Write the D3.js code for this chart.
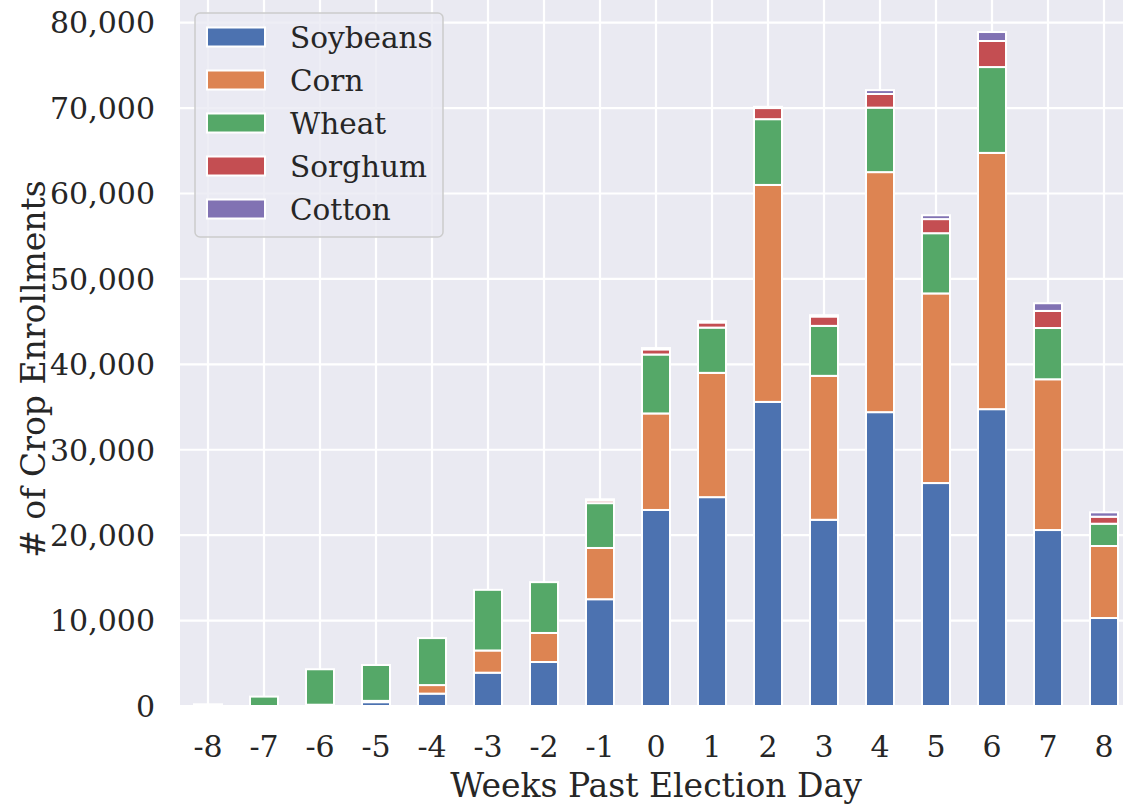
<!DOCTYPE html>
<html>
<head>
<meta charset="utf-8">
<script src="https://cdn.jsdelivr.net/npm/d3@7"></script>
<style>
  html, body { margin: 0; padding: 0; background: #ffffff; }
  svg { display: block; }
  text { font-family: "DejaVu Serif", serif; fill: #262626; }
</style>
</head>
<body>
<svg id="chart" width="1123" height="808"></svg>
<script>
const weeks = ["-8","-7","-6","-5","-4","-3","-2","-1","0","1","2","3","4","5","6","7","8"];
const soybeans = [0, 0, 150, 450, 1450, 3900, 5150, 12500, 22950, 24450, 35600, 21800, 34400, 26100, 34750, 20600, 10300];
const corn     = [0, 0, 0, 150, 1000, 2600, 3400, 6000, 11300, 14550, 25400, 16850, 28100, 22200, 30000, 17650, 8430];
const wheat    = [200, 1100, 4150, 4200, 5500, 7100, 5950, 5250, 6900, 5300, 7700, 5850, 7550, 7050, 10050, 6000, 2610];
const sorghum  = [0, 0, 0, 0, 0, 0, 0, 300, 600, 600, 1300, 1100, 1600, 1650, 3050, 2000, 820];
const cotton   = [0, 0, 0, 0, 0, 0, 0, 150, 150, 150, 150, 150, 450, 450, 1050, 900, 510];
const seriesNames = ["Soybeans", "Corn", "Wheat", "Sorghum", "Cotton"];
const seriesColors = ["#4C72B0", "#DD8452", "#55A868", "#C44E52", "#8172B3"];
const yTicks = [0, 10000, 20000, 30000, 40000, 50000, 60000, 70000, 80000];

const seriesArrays = [soybeans, corn, wheat, sorghum, cotton];
const rows = weeks.map((w, i) => {
  const r = { week: w };
  seriesNames.forEach((s, k) => r[s] = seriesArrays[k][i]);
  return r;
});

const svg = d3.select("#chart");
const plotLeft = 180, plotRight = 1132, plotTop = 0, plotBottom = 706;
const TICK_FS = 30, LABEL_FS = 33, LEG_FS = 29.5;

const x = d3.scaleBand().domain(weeks).range([plotLeft, plotRight]).paddingInner(0.5).paddingOuter(0.25);
const y = d3.scaleLinear().domain([0, 82650]).range([plotBottom, plotTop]);
const color = d3.scaleOrdinal().domain(seriesNames).range(seriesColors);

// background
svg.append("rect").attr("x", plotLeft).attr("y", plotTop)
  .attr("width", plotRight - plotLeft).attr("height", plotBottom - plotTop)
  .attr("fill", "#EAEAF2");

// grid
const g = svg.append("g");
g.selectAll("line.h").data(yTicks).join("line")
  .attr("x1", plotLeft).attr("x2", plotRight)
  .attr("y1", d => y(d)).attr("y2", d => y(d))
  .attr("stroke", "#fff").attr("stroke-width", 2.2);
g.selectAll("line.v").data(weeks).join("line")
  .attr("x1", d => x(d) + x.bandwidth() / 2).attr("x2", d => x(d) + x.bandwidth() / 2)
  .attr("y1", plotTop).attr("y2", plotBottom)
  .attr("stroke", "#fff").attr("stroke-width", 2.2);

// bars
const stack = d3.stack().keys(seriesNames);
const stacked = stack(rows);
svg.append("g").selectAll("g").data(stacked).join("g")
  .attr("fill", d => color(d.key))
  .selectAll("rect").data(d => d).join("rect")
  .attr("x", d => x(d.data.week))
  .attr("width", x.bandwidth())
  .attr("y", d => y(d[1]))
  .attr("height", d => Math.max(0, y(d[0]) - y(d[1])))
  .attr("stroke", "#fff").attr("stroke-width", 2);

// y axis labels
const fmt = d3.format(",");
svg.append("g").selectAll("text").data(yTicks).join("text")
  .attr("x", 155).attr("y", d => y(d)).attr("dy", "0.36em")
  .attr("text-anchor", "end").attr("font-size", TICK_FS)
  .text(d => fmt(d));

// x axis labels
svg.append("g").selectAll("text").data(weeks).join("text")
  .attr("x", d => x(d) + x.bandwidth() / 2).attr("y", 757)
  .attr("text-anchor", "middle").attr("font-size", TICK_FS)
  .text(d => d);

// axis titles
svg.append("text").attr("x", (plotLeft + plotRight) / 2).attr("y", 797)
  .attr("text-anchor", "middle").attr("font-size", LABEL_FS)
  .text("Weeks Past Election Day");
svg.append("text")
  .attr("transform", `translate(45, ${(plotTop + plotBottom) / 2 + 16}) rotate(-90)`)
  .attr("text-anchor", "middle").attr("font-size", LABEL_FS)
  .text("# of Crop Enrollments");

// legend
const lg = svg.append("g");
lg.append("rect").attr("x", 195).attr("y", 13).attr("width", 248).attr("height", 224)
  .attr("rx", 5).attr("fill", "rgba(234,234,242,0.8)").attr("stroke", "#cccccc").attr("stroke-width", 1.5);
const items = lg.selectAll("g.item").data(seriesNames).join("g")
  .attr("transform", (d, i) => `translate(0, ${37 + i * 43})`);
items.append("rect").attr("x", 207).attr("y", -9.5).attr("width", 58).attr("height", 19)
  .attr("fill", d => color(d)).attr("stroke", "#fff").attr("stroke-width", 2);
items.append("text").attr("x", 290).attr("y", 0).attr("dy", "0.36em")
  .attr("font-size", LEG_FS).text(d => d);
</script>
</body>
</html>
